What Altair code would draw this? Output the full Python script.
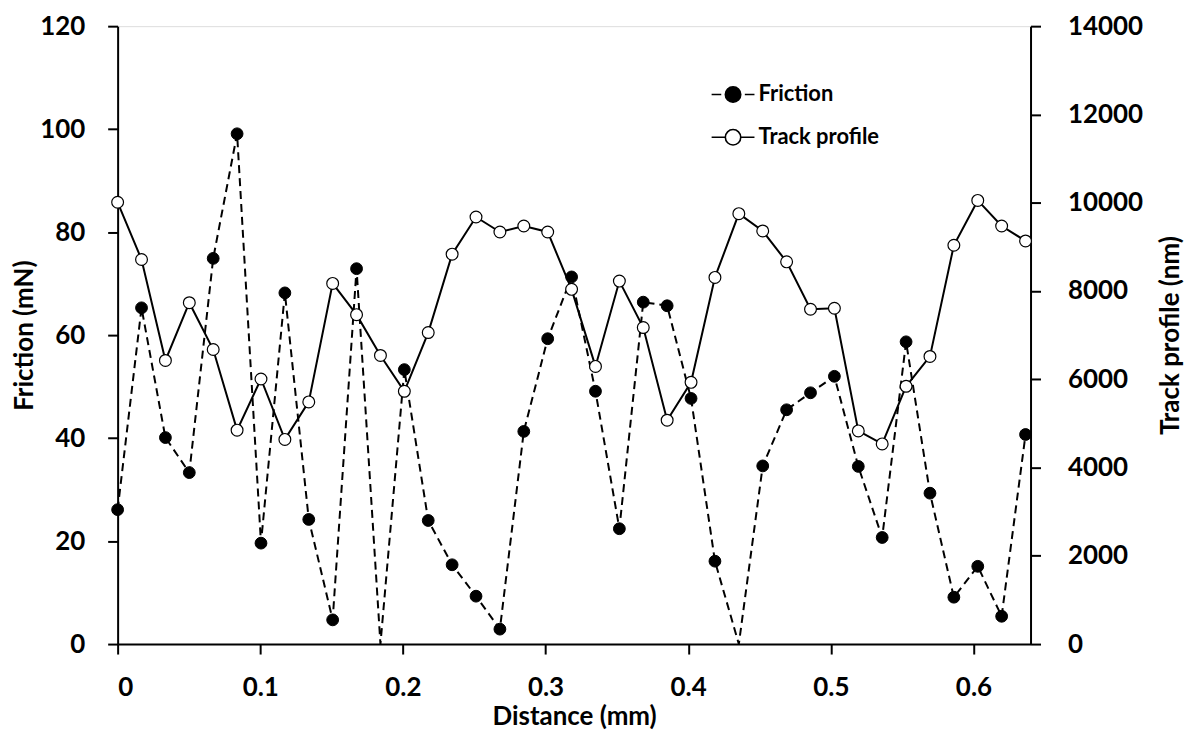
import altair as alt
import pandas as pd

# Sample positions along the track (mm)
distance = [round(i * 0.01675, 5) for i in range(39)]

# Friction (mN)
friction = [26.1, 65.3, 40.1, 33.3, 74.9, 99.1, 19.6, 68.2, 24.2, 4.7,
            72.9, 0.0, 53.3, 24.0, 15.4, 9.3, 2.9, 41.3, 59.3, 71.3,
            49.1, 22.4, 66.4, 65.7, 47.7, 16.1, 0.0, 34.6, 45.5, 48.8,
            52.0, 34.5, 20.7, 58.7, 29.3, 9.1, 15.1, 5.4, 40.7]

# Track profile (nm)
track = [10010, 8714, 6426, 7735, 6674, 4847, 6006, 4637, 5487, 8172,
         7464, 6539, 5727, 7058, 8834, 9676, 9337, 9472, 9337, 8037,
         6291, 8224, 7171, 5072, 5930, 8308, 9752, 9360, 8660, 7586,
         7608, 4830, 4535, 5840, 6517, 9036, 10052, 9472, 9134]

x_ticks = [0, 0.1, 0.2, 0.3, 0.4, 0.5, 0.6]
left_ticks = [0, 20, 40, 60, 80, 100, 120]
right_ticks = [0, 2000, 4000, 6000, 8000, 10000, 12000, 14000]

df = pd.DataFrame({"distance": distance, "friction": friction, "track": track})

FONT = "Lato"
FS = 26      # tick labels
TFS = 26     # axis titles

FR_SYMBOL = "M-1,0H-0.55M0.55,0H1M0.36,0A0.36,0.36,0,1,1,-0.36,0A0.36,0.36,0,1,1,0.36,0Z"
TR_SYMBOL = "M-1,0H-0.36M0.36,0H1M0.36,0A0.36,0.36,0,1,1,-0.36,0A0.36,0.36,0,1,1,0.36,0Z"

x_enc = alt.X("distance:Q",
              scale=alt.Scale(domain=[0, 0.64], nice=False, zero=False),
              axis=alt.Axis(values=x_ticks, format="~g", title="Distance (mm)",
                            grid=False, tickSize=10, tickWidth=2, domainWidth=2,
                            domainColor="black", tickColor="black",
                            labelFont=FONT, labelFontSize=FS, labelFontWeight="bold",
                            labelColor="black", labelPadding=21,
                            titleFont=FONT, titleFontSize=26, titleFontWeight="bold",
                            titleColor="black", titlePadding=3))

def make_legend(symbol, ly, fill_color):
    return alt.Legend(
        orient="none", legendX=595, legendY=ly, title=None,
        symbolType=symbol, symbolSize=1849,
        symbolStrokeColor="black", symbolStrokeWidth=1.6,
        symbolFillColor=fill_color, symbolOpacity=1,
        labelFont=FONT, labelFontSize=22, labelFontWeight="bold", labelColor="black",
        labelOffset=3)

y_left = alt.Y("friction:Q",
               scale=alt.Scale(domain=[0, 120], nice=False),
               axis=alt.Axis(values=left_ticks, title="Friction (mN)", orient="left",
                             grid=False, tickSize=10, tickWidth=2, domainWidth=2,
                             domainColor="black", tickColor="black",
                             labelFont=FONT, labelFontSize=FS, labelFontWeight="bold",
                             labelColor="black", labelPadding=23,
                             titleFont=FONT, titleFontSize=TFS, titleFontWeight="bold",
                             titleColor="black", titlePadding=2))

y_right = alt.Y("track:Q",
                scale=alt.Scale(domain=[0, 14000], nice=False),
                axis=alt.Axis(values=right_ticks, format="d", title="Track profile (nm)",
                              orient="right", grid=False, tickSize=10, tickWidth=2,
                              domainWidth=2, domainColor="black", tickColor="black",
                              labelFont=FONT, labelFontSize=FS, labelFontWeight="bold",
                              labelColor="black", labelPadding=27,
                              titleFont=FONT, titleFontSize=TFS, titleFontWeight="bold",
                              titleColor="black", titlePadding=41, titleAngle=270))

base = alt.Chart(df)

fr_line = base.mark_line(color="black", strokeWidth=2, strokeDash=[8, 5]).encode(x=x_enc, y=y_left)
fr_pts = (base.transform_filter(alt.datum.friction > 0)
          .transform_calculate(series="'Friction'")
          .mark_point(filled=True, shape="circle", size=140, stroke="black",
                      strokeWidth=1, opacity=1)
          .encode(x=x_enc, y=y_left,
                  fill=alt.Fill("series:N",
                                scale=alt.Scale(domain=["Friction"], range=["black"]),
                                legend=make_legend(FR_SYMBOL, 46, "black"))))

tr_line = base.mark_line(color="black", strokeWidth=2).encode(x=x_enc, y=y_right)
tr_pts = (base.transform_calculate(series="'Track profile'")
          .mark_point(filled=True, shape="circle", size=140, fill="white",
                      strokeWidth=1.2, opacity=1)
          .encode(x=x_enc, y=y_right,
                  stroke=alt.Stroke("series:N",
                                    scale=alt.Scale(domain=["Track profile"], range=["black"]),
                                    legend=make_legend(TR_SYMBOL, 89, "white"))))

left_layer = alt.layer(fr_line, fr_pts)
right_layer = alt.layer(tr_line, tr_pts)

chart = (alt.layer(left_layer, right_layer)
         .resolve_scale(y="independent")
         .properties(width=916, height=620,
                     autosize=alt.AutoSizeParams(type="none"),
                     padding={"left": 110, "top": 17, "right": 158, "bottom": 86})
         .configure_view(stroke="black", strokeWidth=2)
         .configure(background="white"))

chart.save("out.html", embed_options={"renderer": "svg", "actions": False})
